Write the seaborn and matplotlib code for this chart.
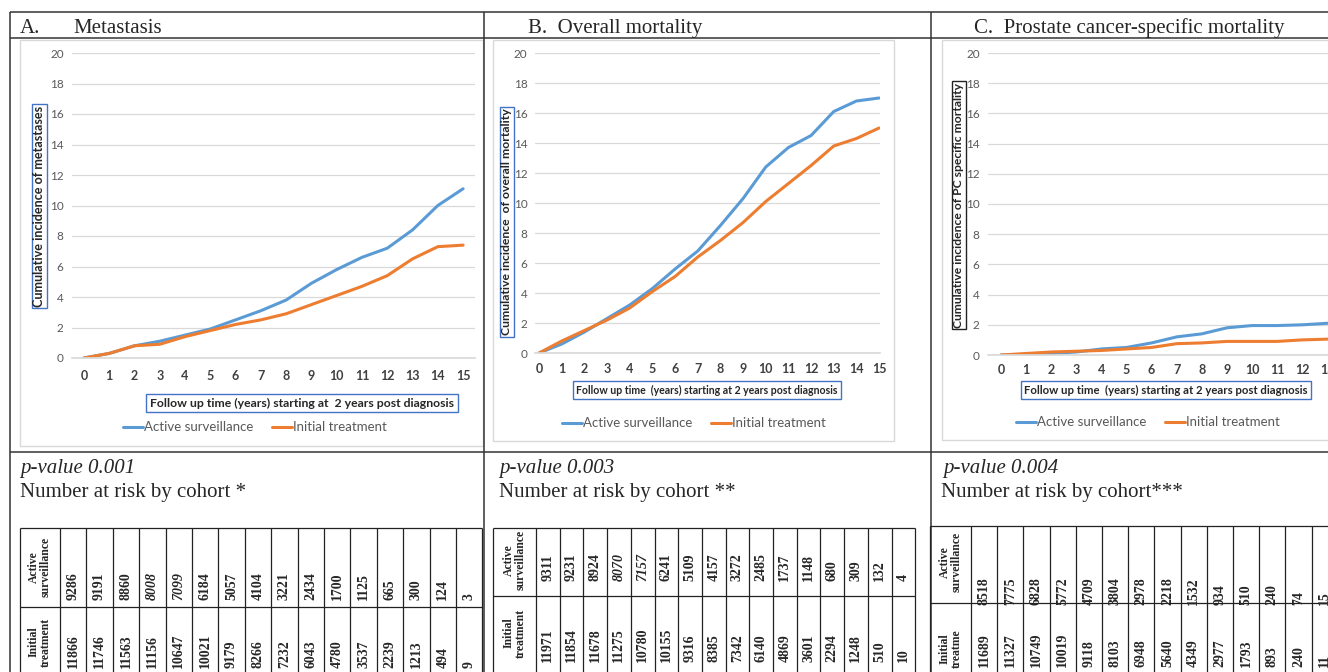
import numpy as np
import pandas as pd
import matplotlib
matplotlib.use("Agg")
import matplotlib.pyplot as plt
import seaborn as sns
from matplotlib.patches import Rectangle

W, H = 1328, 672

# ==============================
# DATA
# ==============================
years = list(range(16))
groups = ["Active surveillance", "Initial treatment"]

# cumulative incidence (%)
meta_as = [0, 0.3, 0.8, 1.1, 1.5, 1.9, 2.5, 3.1, 3.8, 4.9, 5.8, 6.6, 7.2, 8.4, 10.0, 11.1]
meta_it = [0, 0.3, 0.8, 0.9, 1.4, 1.8, 2.2, 2.5, 2.9, 3.5, 4.1, 4.7, 5.4, 6.5, 7.3, 7.4]
om_as = [0, 0.6, 1.4, 2.3, 3.2, 4.3, 5.6, 6.8, 8.5, 10.3, 12.4, 13.7, 14.5, 16.1, 16.8, 17.0]
om_it = [0, 0.8, 1.5, 2.2, 3.0, 4.1, 5.1, 6.4, 7.5, 8.7, 10.1, 11.3, 12.5, 13.8, 14.3, 15.0]
pcsm_as = [0, 0.05, 0.1, 0.2, 0.4, 0.5, 0.8, 1.2, 1.4, 1.8, 1.95, 1.95, 2.0, 2.1, 2.2, 2.2]
pcsm_it = [0, 0.1, 0.2, 0.25, 0.3, 0.4, 0.5, 0.75, 0.8, 0.9, 0.9, 0.9, 1.0, 1.05, 1.1, 1.1]

# number at risk
risk_a_as = [9286, 9191, 8860, 8008, 7099, 6184, 5057, 4104, 3221, 2434, 1700, 1125, 665, 300, 124, 3]
risk_a_it = [11866, 11746, 11563, 11156, 10647, 10021, 9179, 8266, 7232, 6043, 4780, 3537, 2239, 1213, 494, 9]
risk_b_as = [9311, 9231, 8924, 8070, 7157, 6241, 5109, 4157, 3272, 2485, 1737, 1148, 680, 309, 132, 4]
risk_b_it = [11971, 11854, 11678, 11275, 10780, 10155, 9316, 8385, 7342, 6140, 4869, 3601, 2294, 1248, 510, 10]
risk_c_as = [8518, 7775, 6828, 5772, 4709, 3804, 2978, 2218, 1532, 934, 510, 240, 74, 15]
risk_c_it = [11689, 11327, 10749, 10019, 9118, 8103, 6948, 5640, 4349, 2977, 1793, 893, 240, 11]

titles = ["Metastasis", "B.  Overall mortality", "C.  Prostate cancer-specific mortality"]
ylabels = ["Cumulative incidence of metastases",
           "Cumulative incidence  of overall mortality",
           "Cumulative incidence of PC specific mortality"]
xlabels = ["Follow up time (years) starting at  2 years post diagnosis",
           "Follow up time  (years) starting at 2 years post diagnosis",
           "Follow up time  (years) starting at 2 years post diagnosis"]
pvalues = ["p-value 0.001", "p-value 0.003", "p-value 0.004"]
risk_titles = ["Number at risk by cohort *", "Number at risk by cohort **", "Number at risk by cohort***"]

BLUE = "#5B9BD5"
ORANGE = "#ED7D31"
SANS = ["Lato", "DejaVu Sans"]
NARROW = ["Liberation Sans Narrow", "Lato", "DejaVu Sans"]
SERIF = ["Liberation Serif", "DejaVu Serif"]

sns.set_theme(style="white")
plt.rcParams["font.family"] = SANS

fig = plt.figure(figsize=(W / 100, H / 100), dpi=100)

# overlay in pixel coordinates for frames, titles, tables
ov = fig.add_axes([0, 0, 1, 1])
ov.set_xlim(0, W)
ov.set_ylim(H, 0)
ov.axis("off")


def px(x, y):
    return x / W, 1 - y / H


def ax_at(x0, x1, y0, y1):
    return fig.add_axes([x0 / W, 1 - y1 / H, (x1 - x0) / W, (y1 - y0) / H])


# ==============================
# OUTER GRID / TITLES
# ==============================
line_kw = dict(color="#333333", lw=1.1)
ov.hlines([12, 38, 452], 10, W, **line_kw)
ov.vlines([10, 484, 931], 12, H, **line_kw)

ov.text(20, 33, "A.", family=SERIF, fontsize=15, va="baseline")
ov.text(73, 33, titles[0], family=SERIF, fontsize=15, va="baseline")
ov.text(528, 33, titles[1], family=SERIF, fontsize=15, va="baseline")
ov.text(974, 33, titles[2], family=SERIF, fontsize=15, va="baseline")

# light chart-area frames
for (x0, x1, y0, y1) in [(20, 483, 40, 446), (493, 894, 40, 441), (942, 1400, 40, 440)]:
    ov.add_patch(Rectangle((x0, y0), x1 - x0, y1 - y0, fc="none", ec="#D9D9D9", lw=1))

# ==============================
# CHARTS
# ==============================
panels = [
    dict(vals=(meta_as, meta_it), box=(72, 475, 53, 358), xlim=(-0.47, 15.47),
         xpad=8.5, ypad=6, ylab=(39.5, 206), ybox="#4472C4", yfs=8.3,
         xlab=(302, 403), xfs=8.0, leg=(255, 427)),
    dict(vals=(om_as, om_it), box=(535, 880, 53, 353), xlim=(-0.18, 15.04),
         xpad=7, ypad=5.5, ylab=(507, 222), ybox="#4472C4", yfs=8.0,
         xlab=(707, 390), xfs=6.8, leg=(694, 423)),
    dict(vals=(pcsm_as, pcsm_it), box=(988, 1390, 53, 355), xlim=(-0.52, 15.5),
         xpad=6.5, ypad=6, ylab=(959, 205), ybox="#222222", yfs=7.9,
         xlab=(1166, 390), xfs=7.4, leg=(1148, 422)),
]

for i, p in enumerate(panels):
    ax = ax_at(*p["box"])
    df = pd.DataFrame({
        "year": years * 2,
        "value": p["vals"][0] + p["vals"][1],
        "group": [groups[0]] * len(years) + [groups[1]] * len(years),
    })
    sns.lineplot(data=df, x="year", y="value", hue="group",
                 palette=[BLUE, ORANGE], lw=2.2, ax=ax)
    ax.set_facecolor("none")
    ax.set_xlim(*p["xlim"])
    ax.set_ylim(0, 20)
    ax.set_xticks(years)
    ax.set_yticks(range(0, 21, 2))
    ax.set_xlabel("")
    ax.set_ylabel("")
    ax.grid(axis="y", color="#D9D9D9", lw=0.9)
    ax.grid(axis="x", visible=False)
    for s in ["top", "right", "left"]:
        ax.spines[s].set_visible(False)
    ax.spines["bottom"].set_color("#D9D9D9")
    ax.tick_params(axis="x", length=0, pad=p["xpad"], labelsize=9, labelcolor="#404040")
    ax.tick_params(axis="y", length=0, pad=p["ypad"], labelsize=8.5, labelcolor="#595959")
    for t in ax.get_xticklabels():
        t.set_fontweight("bold")

    fig.text(*px(*p["ylab"]), ylabels[i], rotation=90, ha="center", va="center",
             family=NARROW, fontsize=p["yfs"] + 0.8, fontweight="bold", color="#262626",
             bbox=dict(boxstyle="square,pad=0.15", fc="white", ec=p["ybox"], lw=1))
    fig.text(*px(*p["xlab"]), xlabels[i], ha="center", va="center",
             family=NARROW, fontsize=p["xfs"] + 0.8, fontweight="bold", color="#262626",
             bbox=dict(boxstyle="square,pad=0.3", fc="white", ec="#4472C4", lw=1))

    sns.move_legend(ax, "center", bbox_to_anchor=px(*p["leg"]),
                    bbox_transform=fig.transFigure, ncol=2, frameon=False,
                    title=None, fontsize=8, handlelength=1.8,
                    handletextpad=0.1, columnspacing=1.6)
    for t in ax.get_legend().get_texts():
        t.set_color("#595959")
        t.set_family(NARROW)
        t.set_fontsize(9.5)

# ==============================
# P-VALUES AND RISK TABLES
# ==============================
text_pos = [(20, 20), (499, 499), (943, 941)]
for i, (xp, xn) in enumerate(text_pos):
    ov.text(xp, 473, pvalues[i], family=SERIF, style="italic", fontsize=15, va="baseline")
    ov.text(xn, 497, risk_titles[i], family=SERIF, fontsize=15, va="baseline")

tables = [
    dict(vals=(risk_a_as, risk_a_it), x0=20, hw=40, cw=26.4, top=528, mid=607,
         base=(600, 668), heads=("Active\nsurveillance", "Initial\ntreatment"),
         hy=(567, 642), italic=(3, 4)),
    dict(vals=(risk_b_as, risk_b_it), x0=493, hw=43, cw=23.7, top=528, mid=596,
         base=(581, 662), heads=("Active\nsurveillance", "Initial\ntreatment"),
         hy=(560, 633), italic=(3, 4)),
    dict(vals=(risk_c_as, risk_c_it), x0=930, hw=41, cw=26.2, top=526, mid=603,
         base=(605, 667), heads=("Active\nsurveillance", "Initial\ntreatme"),
         hy=(562, 649), italic=()),
]

tab_kw = dict(color="#222222", lw=0.9)
for t in tables:
    n = len(t["vals"][0])
    xs = [t["x0"] + t["hw"] + k * t["cw"] for k in range(n + 1)]
    ov.hlines([t["top"], t["mid"]], t["x0"], xs[-1], **tab_kw)
    ov.vlines([t["x0"]] + xs, t["top"], H + 5, **tab_kw)
    for row in range(2):
        ov.text(t["x0"] + t["hw"] / 2, t["hy"][row], t["heads"][row], rotation=90,
                ha="center", va="center", multialignment="center", linespacing=1.0,
                family=SERIF, fontweight="bold", fontsize=8.5)
        for k, v in enumerate(t["vals"][row]):
            ov.text(xs[k] + t["cw"] / 2, t["base"][row], str(v), rotation=90,
                    ha="center", va="bottom", family=SERIF, fontweight="bold",
                    fontsize=10, style="italic" if (row == 0 and k in t["italic"]) else "normal")

fig.savefig("out.png", dpi=100, facecolor="white")
